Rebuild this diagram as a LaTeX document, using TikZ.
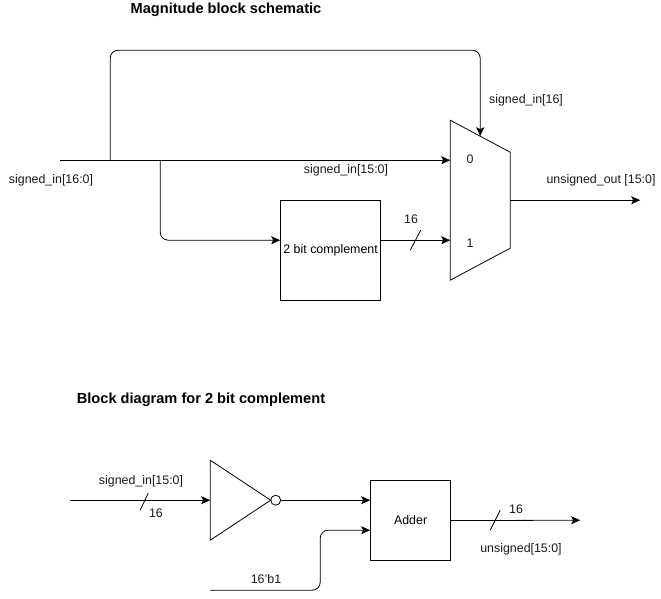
\documentclass[tikz,border=0pt]{standalone}
\usepackage{fontspec}
\setmainfont{Liberation Sans}
\usetikzlibrary{arrows.meta,calc}
\tikzset{
  x=1pt,y=-1pt,
  wire/.style={line width=0.8pt,black},
  sig/.style={wire,-{Stealth[length=9pt,width=8pt,inset=2pt]}},
  rnd/.style={rounded corners=8pt},
  block/.style={draw,line width=0.8pt,inner sep=0pt,anchor=north west,font=\fontsize{12.4}{14}\selectfont},
  lbl/.style={inner sep=0pt,font=\fontsize{12.4}{14}\selectfont,text=black!90},
  ttl/.style={inner sep=0pt,font=\bfseries\fontsize{14.6}{17}\selectfont},
  shape line/.style={line width=0.8pt,line join=miter}
}
\begin{document}
\begin{tikzpicture}
\useasboundingbox (-0.2,-0.2) rectangle (660.8,598.8);
% titles
\node[ttl] (t1) at (225.8,9.3) {Magnitude block schematic};
\node[ttl] (t2) at (200.8,399.3) {Block diagram for 2 bit complement};
% mux
\coordinate (m1) at (450,120);
\coordinate (m2) at (510,152);
\coordinate (m3) at (510,248);
\coordinate (m4) at (450,280);
\draw[shape line] (m1) -- (m2) -- (m3) -- (m4) -- cycle;
\coordinate (mux0) at (450,160);
\coordinate (mux1) at (450,240);
\coordinate (muxs) at (480,136);
\coordinate (muxo) at (510,200);
\coordinate (outend) at (640,200);
% complement block
\node[block,minimum width=100pt,minimum height=100pt] (comp) at (280,200) {\raisebox{0.5pt}{2 bit complement}};
\coordinate (compin) at (comp.west |- 0,240);
\coordinate (compout) at (comp.east |- 0,240);
% input net
\coordinate (inl) at (60,160);
\coordinate (j1) at (110,160);
\coordinate (j2) at (160,160);
\coordinate (bend1) at (110,50);
\coordinate (bend2) at (480,50);
\coordinate (bend3) at (160,240);
\draw[wire] (inl) -- (j2);
\draw[sig] (j2) -- (mux0);
\draw[sig,rnd] (j1) -- (bend1) -- (bend2) -- (muxs);
\draw[sig,rnd] (j2) -- (bend3) -- (compin);
\draw[sig] (compout) -- (mux1);
\draw[sig] (muxo) -- (outend);
\coordinate (s1a) at (410,250);
\coordinate (s1b) at (420.5,230);
\draw[wire] (s1a) -- (s1b);
% labels upper
\node[lbl] (l1) at (50.8,179.8) {signed\_in[16:0]};
\node[lbl] (l2) at (345.8,169.8) {signed\_in[15:0]};
\node[lbl] (l3) at (525.8,99.8) {signed\_in[16]};
\node[lbl] (l4) at (600.8,179.8) {unsigned\_out [15:0]};
\node[lbl] (l5) at (410.8,218.8) {16};
\node[lbl] (l6) at (469.8,158.8) {0};
\node[lbl] (l7) at (469.8,242.8) {1};
% inverter
\coordinate (i1) at (210,460);
\coordinate (i2) at (270.5,500);
\coordinate (i3) at (210,540);
\draw[shape line] (i1) -- (i2) -- (i3) -- cycle;
\node[draw,circle,line width=0.8pt,minimum size=10pt,inner sep=0pt] (bub) at (275.5,500) {};
\coordinate (iin) at (210,500);
\coordinate (iinl) at (70,500);
\draw[sig] (iinl) -- (iin);
\coordinate (s2a) at (140,510);
\coordinate (s2b) at (148,493);
\draw[wire] (s2a) -- (s2b);
% adder
\node[block,minimum width=80pt,minimum height=80pt] (add) at (370,480) {\raisebox{2pt}{Adder}};
\coordinate (addin1) at (add.west |- 0,500);
\coordinate (addin2) at (add.west |- 0,530);
\draw[sig] (bub.east) -- (addin1);
\coordinate (cst) at (210,590);
\coordinate (bend4) at (320,590);
\coordinate (bend5) at (320,530);
\draw[sig,rnd] (cst) -- (bend4) -- (bend5) -- (addin2);
\coordinate (aout) at (580,520);
\draw[sig] (add.east) -- (aout);
\coordinate (s3a) at (490,530);
\coordinate (s3b) at (500,510);
\draw[wire] (s3a) -- (s3b);
% labels lower
\node[lbl] (l8) at (140.8,480.8) {signed\_in[15:0]};
\node[lbl] (l9) at (155.8,513) {16};
\node[lbl] (l10) at (265.8,579) {16'b1};
\node[lbl] (l11) at (515.8,509) {16};
\node[lbl] (l12) at (520.8,549) {unsigned[15:0]};
\end{tikzpicture}
\end{document}
